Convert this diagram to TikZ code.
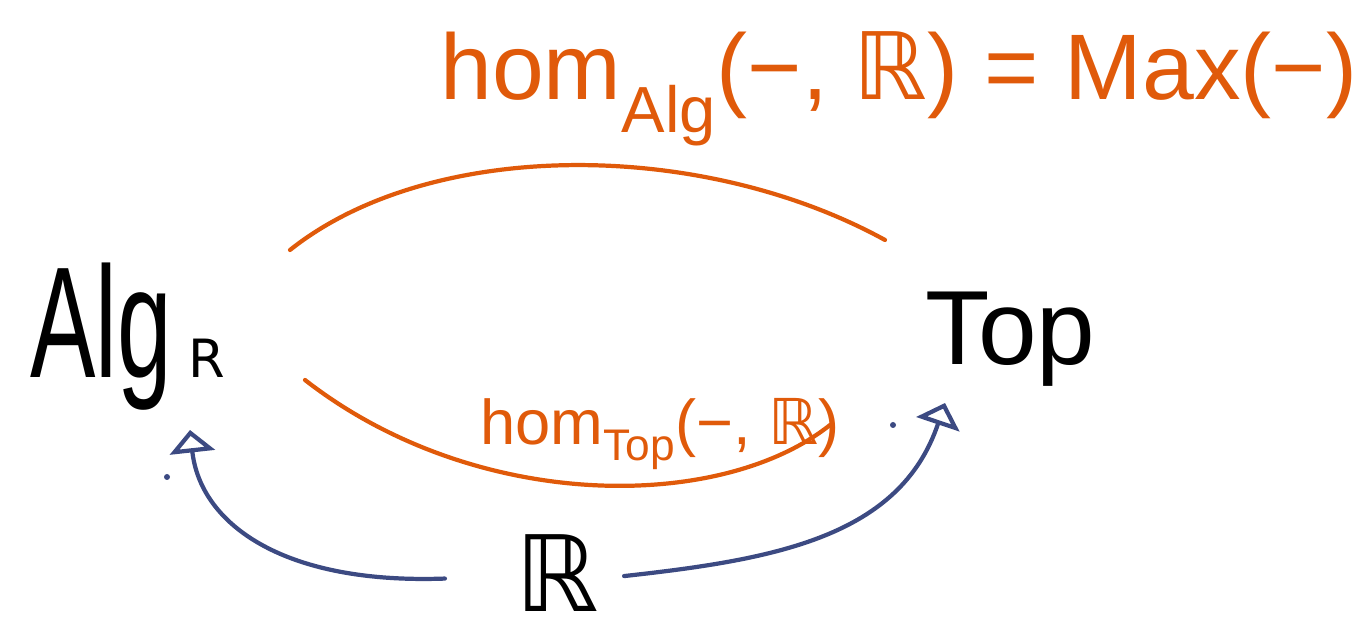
\documentclass[tikz,border=0pt]{standalone}
\usepackage{fontspec}
\setmainfont{Liberation Sans}
\newfontfamily\dsfont{DejaVu Sans}
\newfontfamily\narrowfont[FakeStretch=0.62]{Liberation Sans}
\usetikzlibrary{arrows.meta, positioning}
\definecolor{horange}{HTML}{E05A0A}
\definecolor{hblue}{HTML}{3C4A82}
\newcommand{\reals}{{\dsfont ℝ}}
\tikzset{
  obj/.style={text=black, inner sep=0pt, anchor=base west},
  homlab/.style={text=horange, inner sep=0pt, anchor=base west},
  homarc/.style={draw=horange, line width=2.4pt, line cap=round},
  realarr/.style={
    draw=hblue, line width=2.4pt, line cap=round,
    -{Triangle[open, length=4.5mm, width=9mm]}
  },
  speck/.style={fill=hblue}
}

\begin{document}
\begin{tikzpicture}
  \useasboundingbox (0,0) rectangle (27.28,12.74);

  % the two categories
  \node[obj, font=\narrowfont\fontsize{90}{90}\selectfont] (alg) at (0.6,5.18)
    {Alg{\fontsize{30}{30}\selectfont\dsfont\ R}};
  \node[obj, font=\fontsize{60}{60}\selectfont] (top) at (18.5,5.44) {Top};
  \node[obj, anchor=base, font=\fontsize{60}{60}\selectfont] (reals) at (11.14,0.5) {\reals};

  % hom functors
  \node[homlab, font=\fontsize{53}{53}\selectfont] (homalg) at (8.8,10.74)
    {hom\textsubscript{Alg}(−, \reals) = Max(−)};
  \node[homlab, font=\fontsize{36}{36}\selectfont] (homtop) at (9.6,3.84)
    {hom\textsubscript{Top}(−, \reals)};

  \coordinate (upL) at (5.8,7.74);
  \coordinate (upR) at (17.7,7.94);
  \coordinate (loL) at (6.1,5.14);
  \coordinate (loR) at (16.6,4.24);
  \draw[homarc] (upL) .. controls (8.6,9.97) and (14.0,9.97) .. (upR);
  \draw[homarc] (loL) .. controls (9.5,2.49) and (14.4,2.49) .. (loR);

  % evaluation at R
  \coordinate (algtip) at (3.8,4.14);
  \coordinate (toptip) at (18.9,4.68);
  \draw[realarr] ([xshift=-1.4cm,yshift=-0.1cm]reals.west) .. controls (5.6,1.05) and (4.0,2.3) .. (algtip);
  \draw[realarr] ([xshift=0.5cm,yshift=-0.05cm]reals.east) .. controls (15.5,1.55) and (18.0,2.0) .. (toptip);

  \fill[speck] (3.34,3.2) circle (0.06);
  \fill[speck] (17.86,4.24) circle (0.06);
\end{tikzpicture}
\end{document}
